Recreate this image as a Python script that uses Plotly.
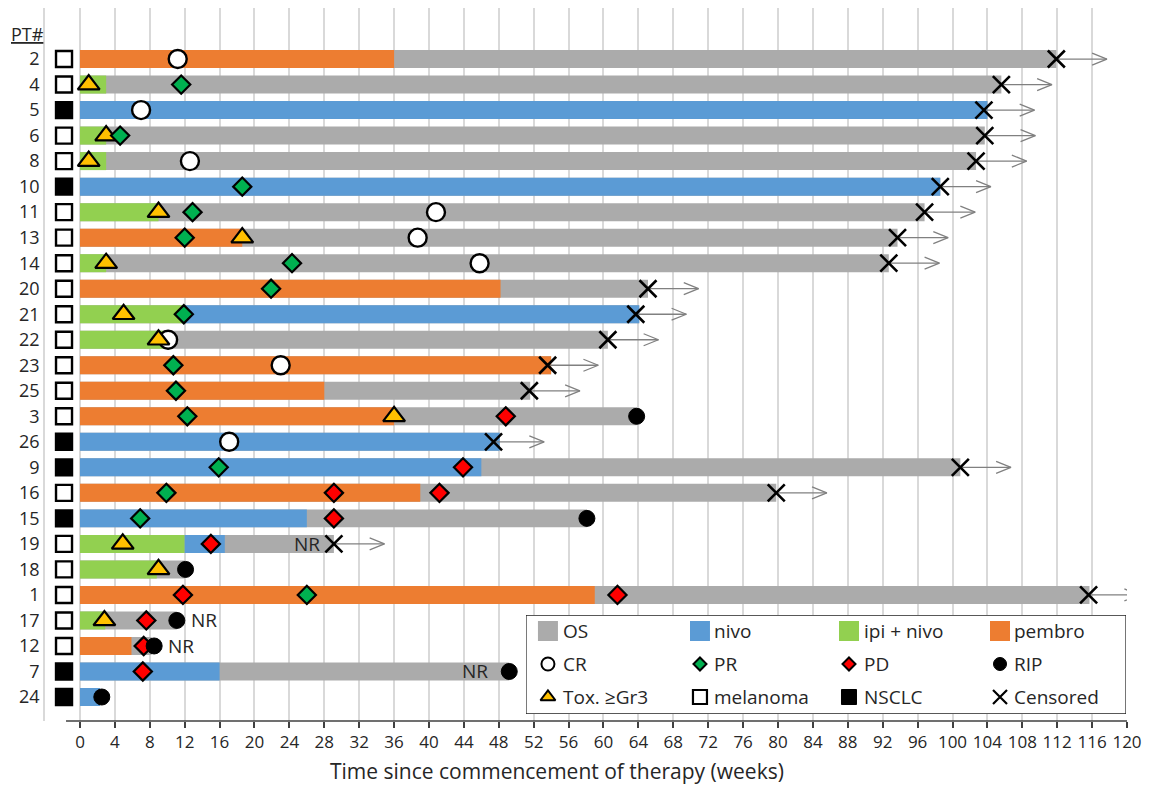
import plotly.graph_objects as go

# ---------------- data (weeks since start of therapy) ----------------
patients = [2, 4, 5, 6, 8, 10, 11, 13, 14, 20, 21, 22, 23, 25, 3, 26, 9, 16, 15, 19, 18, 1, 17, 12, 7, 24]
cancer = ["mel", "mel", "nsclc", "mel", "mel", "nsclc", "mel", "mel", "mel", "mel", "mel", "mel", "mel",
          "mel", "mel", "nsclc", "nsclc", "mel", "nsclc", "mel", "mel", "mel", "mel", "mel", "nsclc", "nsclc"]
os_end = [111.9, 105.6, 104.0, 103.7, 102.7, 98.6, 96.8, 93.7, 92.7, 65.1, 64.1, 60.5, 54.0,
          51.6, 63.8, 48.1, 100.9, 79.8, 58.1, 29.1, 12.0, 115.7, 11.1, 8.2, 49.2, 2.3]

# treatment segments: (patient, start, end)
ipi_nivo = [(4, 0, 3), (6, 0, 3), (8, 0, 3), (11, 0, 9), (14, 0, 3), (21, 0, 12), (22, 0, 10),
            (19, 0, 12), (18, 0, 8.8), (17, 0, 2.9)]
nivo = [(5, 0, 104.0), (10, 0, 98.6), (21, 12, 64.1), (26, 0, 48.1), (9, 0, 46.0), (15, 0, 26.0),
        (19, 12, 16.6), (7, 0, 16.0), (24, 0, 2.3)]
pembro = [(2, 0, 36.0), (13, 0, 18.6), (20, 0, 48.2), (23, 0, 54.0), (25, 0, 28.0), (3, 0, 36.0),
          (16, 0, 39.0), (1, 0, 59.0), (12, 0, 5.9)]

# events: (patient, week)
cr = [(2, 11.2), (5, 7.0), (8, 12.6), (11, 40.8), (13, 38.7), (14, 45.8), (22, 10.1), (23, 23.0), (26, 17.1)]
pr = [(4, 11.6), (6, 4.6), (10, 18.6), (11, 12.9), (13, 12.0), (14, 24.3), (20, 21.9), (21, 11.9),
      (23, 10.7), (25, 11.0), (3, 12.3), (9, 15.9), (16, 9.9), (15, 6.9), (1, 26.0)]
pd_ = [(3, 48.8), (9, 43.9), (16, 29.1), (16, 41.2), (15, 29.1), (19, 15.0), (1, 11.8), (1, 61.6),
       (17, 7.6), (12, 7.3), (7, 7.2)]
tox = [(4, 1.0), (6, 3.0), (8, 1.0), (11, 9.0), (13, 18.6), (14, 3.0), (21, 5.0), (22, 9.0),
       (3, 36.0), (19, 4.9), (18, 9.0), (17, 2.8)]
rip = [(3, 63.8), (15, 58.1), (18, 12.1), (17, 11.1), (12, 8.5), (7, 49.2), (24, 2.5)]
censored = [(2, 111.9), (4, 105.6), (5, 103.6), (6, 103.7), (8, 102.7), (10, 98.6), (11, 96.8),
            (13, 93.7), (14, 92.7), (20, 65.1), (21, 63.7), (22, 60.5), (23, 53.6), (25, 51.5),
            (26, 47.4), (9, 100.9), (16, 79.8), (19, 29.1), (1, 115.6)]
# "NR" notes: (patient, week of last mark, side)
nr_notes = [(19, 29.1, "left"), (17, 11.1, "right"), (12, 8.5, "right"), (7, 49.2, "left")]

x_ticks = list(range(0, 121, 4))

# ---------------- styling ----------------
C_OS = "#ABABAB"
C_NIVO = "#5B9BD5"
C_IPI = "#92D050"
C_PEMBRO = "#ED7D31"
C_TOX = "#FFC000"
C_PR = "#00B050"
C_PD = "#FF0000"
FONT = "Open Sans"
TXT = "#262626"
BAR_W = 0.705
ARROW_LEN = 5.8      # weeks
HEAD_LEN = 1.7       # weeks
HEAD_H = 0.235       # rows
TYPE_X = -1.83       # column of the tumour-type boxes

row = {p: i for i, p in enumerate(patients)}

fig = go.Figure()

# overall survival (grey) underneath
fig.add_trace(go.Bar(orientation="h", y=list(range(len(patients))), x=os_end,
                     base=[0] * len(patients), width=BAR_W, marker=dict(color=C_OS, line=dict(width=0)),
                     showlegend=False, hoverinfo="skip"))

for segs, col in [(ipi_nivo, C_IPI), (nivo, C_NIVO), (pembro, C_PEMBRO)]:
    fig.add_trace(go.Bar(orientation="h", y=[row[p] for p, s, e in segs],
                         x=[e - s for p, s, e in segs], base=[s for p, s, e in segs],
                         width=BAR_W, marker=dict(color=col, line=dict(width=0)),
                         showlegend=False, hoverinfo="skip"))

# censoring arrows
ax, ay = [], []
for p, t in censored:
    r = row[p]
    tip = t + ARROW_LEN
    ax += [t, tip, None, tip - HEAD_LEN, tip, tip - HEAD_LEN, None]
    ay += [r, r, None, r - HEAD_H, r, r + HEAD_H, None]
fig.add_trace(go.Scatter(x=ax, y=ay, mode="lines", line=dict(color="#808080", width=1.3),
                         showlegend=False, hoverinfo="skip"))


def marks(events, symbol, size, fill, lw=2, lc="black"):
    fig.add_trace(go.Scatter(x=[t for p, t in events], y=[row[p] for p, t in events], mode="markers",
                             marker=dict(symbol=symbol, size=size, color=fill,
                                         line=dict(color=lc, width=lw)),
                             showlegend=False, hoverinfo="skip", cliponaxis=False))


marks(cr, "circle", 18, "white", 2.4)
marks(tox, "triangle-up", 19, C_TOX, 2.2)
marks(pr, "diamond", 14, C_PR, 2.2)
marks(pd_, "diamond", 14, C_PD, 2.2)
marks(rip, "circle", 16, "black", 1)
marks(censored, "x-thin", 17, "black", 2.6)

# tumour type boxes
fig.add_trace(go.Scatter(x=[TYPE_X] * len(patients), y=list(range(len(patients))), mode="markers",
                         marker=dict(symbol="square", size=16,
                                     color=["black" if c == "nsclc" else "white" for c in cancer],
                                     line=dict(color="black", width=2.4)),
                         showlegend=False, hoverinfo="skip", cliponaxis=False))

annotations = []
for p, t, side in nr_notes:
    annotations.append(dict(x=t, y=row[p], xref="x", yref="y", text="NR", showarrow=False,
                            xanchor="right" if side == "left" else "left",
                            xshift=-12 if side == "left" else 12,
                            font=dict(family=FONT, size=19, color=TXT)))
    if p == 7:
        annotations[-1]["xshift"] = -19

annotations.append(dict(x=-0.0166, y=-1.0, xref="paper", yref="y", text="<u>PT#</u>", showarrow=False,
                        xanchor="center", font=dict(family=FONT, size=18, color=TXT)))

# axis title
annotations.append(dict(x=0.473, y=-0.0701, xref="paper", yref="paper",
                        text="Time since commencement of therapy (weeks)", showarrow=False,
                        xanchor="center", yanchor="middle",
                        font=dict(family=FONT, size=21, color=TXT)))

# ---------------- legend (drawn in its own small axes) ----------------
LEG_COLS = [22, 174, 323, 474]
LEG_TXT = [35, 186, 336, 486]
LEG_ROWS = [16, 49, 82]
legend_items = [
    ("OS", dict(symbol="square", size=20, color=C_OS, line=dict(width=0))),
    ("nivo", dict(symbol="square", size=20, color=C_NIVO, line=dict(width=0))),
    ("ipi + nivo", dict(symbol="square", size=20, color=C_IPI, line=dict(width=0))),
    ("pembro", dict(symbol="square", size=20, color=C_PEMBRO, line=dict(width=0))),
    ("CR", dict(symbol="circle", size=13, color="white", line=dict(color="black", width=2))),
    ("PR", dict(symbol="diamond", size=10, color=C_PR, line=dict(color="black", width=2))),
    ("PD", dict(symbol="diamond", size=10, color=C_PD, line=dict(color="black", width=2))),
    ("RIP", dict(symbol="circle", size=13, color="black", line=dict(color="black", width=1))),
    ("Tox. ≥Gr3", dict(symbol="triangle-up", size=13, color=C_TOX, line=dict(color="black", width=2))),
    ("melanoma", dict(symbol="square", size=14, color="white", line=dict(color="black", width=2.2))),
    ("NSCLC", dict(symbol="square", size=15, color="black", line=dict(color="black", width=1))),
    ("Censored", dict(symbol="x-thin", size=14, color="black", line=dict(color="black", width=2.2))),
]
for k, (label, mk) in enumerate(legend_items):
    r, c = divmod(k, 4)
    fig.add_trace(go.Scatter(x=[LEG_COLS[c]], y=[LEG_ROWS[r]], xaxis="x2", yaxis="y2", mode="markers",
                             marker=mk, showlegend=False, hoverinfo="skip", cliponaxis=False))
    annotations.append(dict(x=LEG_TXT[c], y=LEG_ROWS[r], xref="x2", yref="y2", text=label,
                            showarrow=False, xanchor="left", yanchor="middle",
                            font=dict(family=FONT, size=19, color=TXT)))

shapes = [
    # legend frame
    dict(type="rect", xref="x2", yref="y2", x0=0, x1=600, y0=0, y1=99, layer="below",
         line=dict(color="#222222", width=1.3), fillcolor="white"),
    # x axis baseline
    dict(type="line", xref="x", yref="paper", x0=-1.6, x1=120, y0=0, y1=0,
         line=dict(color="#404040", width=1.5)),
]

fig.update_layout(
    width=1159, height=785,
    margin=dict(l=45, r=32, t=8, b=64),
    paper_bgcolor="white", plot_bgcolor="white",
    barmode="overlay",
    showlegend=False,
    annotations=annotations,
    shapes=shapes,
    xaxis=dict(range=[-4.01, 120], tickvals=x_ticks, ticktext=[str(v) for v in x_ticks],
               showgrid=True, gridcolor="#D9D9D9", gridwidth=1.5, zeroline=False, showline=False,
               ticks="outside", ticklen=6, tickwidth=1.5, tickcolor="#404040",
               tickfont=dict(family=FONT, size=17, color=TXT),
               fixedrange=True),
    yaxis=dict(range=[25.94, -2.0], tickvals=list(range(len(patients))),
               ticktext=[str(p) for p in patients], showgrid=False, zeroline=False,
               showline=True, linecolor="#D9D9D9", linewidth=1.5, ticks="",
               tickfont=dict(family=FONT, size=18, color=TXT), fixedrange=True),
    xaxis2=dict(domain=[0.4445, 0.9991], range=[0, 600], visible=False, anchor="y2", fixedrange=True),
    yaxis2=dict(domain=[0.0098, 0.1487], range=[99, 0], visible=False, anchor="x2", fixedrange=True),
)

fig.write_html("out.html")
